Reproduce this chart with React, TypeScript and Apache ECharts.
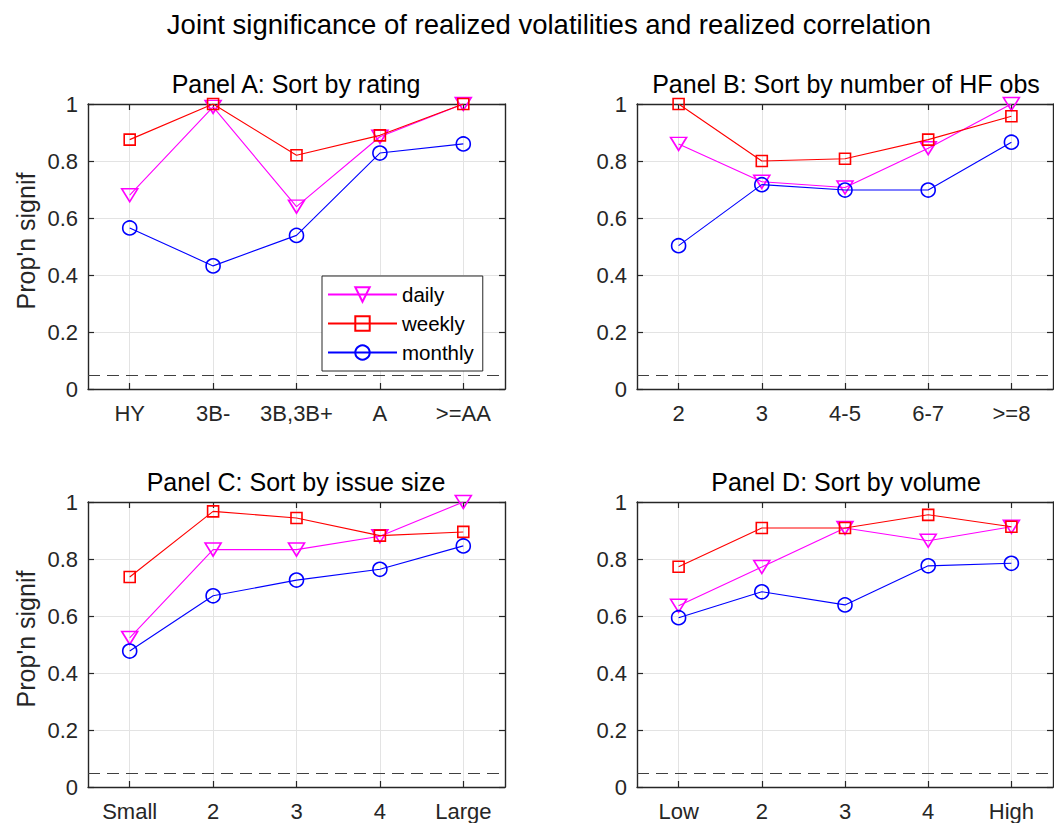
import React, { useEffect, useRef } from 'react';
import * as echarts from 'echarts';

const seriesNames = ['daily', 'weekly', 'monthly'];

const catsA = ['HY', '3B-', '3B,3B+', 'A', '>=AA'];
const dailyA = [0.68, 0.99, 0.64, 0.885, 1.0];
const weeklyA = [0.875, 1.0, 0.82, 0.89, 1.0];
const monthlyA = [0.565, 0.432, 0.539, 0.828, 0.86];

const catsB = ['2', '3', '4-5', '6-7', '>=8'];
const dailyB = [0.86, 0.727, 0.707, 0.845, 1.0];
const weeklyB = [1.0, 0.8, 0.808, 0.875, 0.957];
const monthlyB = [0.503, 0.717, 0.698, 0.698, 0.866];

const catsC = ['Small', '2', '3', '4', 'Large'];
const dailyC = [0.523, 0.833, 0.833, 0.88, 1.0];
const weeklyC = [0.737, 0.967, 0.944, 0.882, 0.895];
const monthlyC = [0.477, 0.671, 0.726, 0.764, 0.846];

const catsD = ['Low', '2', '3', '4', 'High'];
const dailyD = [0.636, 0.772, 0.909, 0.864, 0.913];
const weeklyD = [0.773, 0.909, 0.909, 0.955, 0.913];
const monthlyD = [0.594, 0.685, 0.639, 0.776, 0.785];

const sigLevel = 0.05;

const panelTitles = [
  'Panel A: Sort by rating',
  'Panel B: Sort by number of HF obs',
  'Panel C: Sort by issue size',
  'Panel D: Sort by volume',
];
const mainTitle = 'Joint significance of realized volatilities and realized correlation';
const yLabel = "Prop'n signif";

const panels = [
  { cats: catsA, vals: [dailyA, weeklyA, monthlyA] },
  { cats: catsB, vals: [dailyB, weeklyB, monthlyB] },
  { cats: catsC, vals: [dailyC, weeklyC, monthlyC] },
  { cats: catsD, vals: [dailyD, weeklyD, monthlyD] },
];

const FONT = "'Liberation Sans', Arial, Helvetica, sans-serif";
const AX = '#262626';
const GRIDC = '#e3e3e3';
const colors = ['#ff00ff', '#ff0000', '#0000ff'];
const symbols = ['triangle', 'rect', 'circle'];
const symSizes: any[] = [[16, 13], 11, 14];
const symRot = [180, 0, 0];

const gridRects = [
  { left: 88, top: 104, width: 417, height: 285 },
  { left: 637, top: 104, width: 416, height: 285 },
  { left: 88, top: 502, width: 417, height: 285 },
  { left: 637, top: 502, width: 416, height: 285 },
];
const titleCenters = [
  { x: 296, y: 84 },
  { x: 846, y: 84 },
  { x: 296, y: 482 },
  { x: 846, y: 482 },
];

function buildOption() {
  const grid: any[] = [];
  const xAxis: any[] = [];
  const yAxis: any[] = [];
  const series: any[] = [];
  const title: any[] = [
    {
      text: mainTitle,
      left: 549,
      top: 24,
      padding: 0,
      textAlign: 'center',
      textVerticalAlign: 'middle',
      textStyle: { fontSize: 27.5, fontWeight: 'normal', color: '#000', fontFamily: FONT },
    },
  ];

  panels.forEach((p, i) => {
    grid.push({ ...gridRects[i], containLabel: false });
    title.push({
      text: panelTitles[i],
      left: titleCenters[i].x,
      top: titleCenters[i].y,
      padding: 0,
      textAlign: 'center',
      textVerticalAlign: 'middle',
      textStyle: { fontSize: 25, fontWeight: 'normal', color: '#000', fontFamily: FONT },
    });
    xAxis.push({
      type: 'category',
      gridIndex: i,
      data: p.cats,
      boundaryGap: true,
      position: 'bottom',
      axisLine: { show: true, lineStyle: { color: AX, width: 1.4 } },
      axisTick: { show: true, inside: true, alignWithLabel: true, length: 6, lineStyle: { color: AX, width: 1.2 } },
      axisLabel: { show: true, margin: 13, fontSize: 22, color: AX, fontFamily: FONT, interval: 0 },
      splitLine: { show: true, alignWithLabel: true, lineStyle: { color: GRIDC, width: 1 } },
    });
    xAxis.push({
      type: 'category',
      gridIndex: i,
      data: p.cats,
      boundaryGap: true,
      position: 'top',
      axisLine: { show: true, onZero: false, lineStyle: { color: AX, width: 1.4 } },
      axisTick: { show: true, inside: true, alignWithLabel: true, length: 6, lineStyle: { color: AX, width: 1.2 } },
      axisLabel: { show: false },
      splitLine: { show: false },
    });
    yAxis.push({
      type: 'value',
      gridIndex: i,
      min: 0,
      max: 1,
      interval: 0.2,
      position: 'left',
      name: i % 2 === 0 ? yLabel : '',
      nameLocation: 'middle',
      nameRotate: 90,
      nameGap: 50,
      nameTextStyle: { fontSize: 25, color: AX, fontFamily: FONT, padding: [0, 0, 0, 11] },
      axisLine: { show: true, onZero: false, lineStyle: { color: AX, width: 1.4 } },
      axisTick: { show: true, inside: true, length: 6, lineStyle: { color: AX, width: 1.2 } },
      axisLabel: { show: true, margin: 10, fontSize: 22, color: AX, fontFamily: FONT },
      splitLine: { show: true, lineStyle: { color: GRIDC, width: 1 } },
    });
    yAxis.push({
      type: 'value',
      gridIndex: i,
      min: 0,
      max: 1,
      interval: 0.2,
      position: 'right',
      axisLine: { show: true, onZero: false, lineStyle: { color: AX, width: 1.4 } },
      axisTick: { show: true, inside: true, length: 6, lineStyle: { color: AX, width: 1.2 } },
      axisLabel: { show: false },
      splitLine: { show: false },
    });

    p.vals.forEach((vals, k) => {
      const s: any = {
        type: 'line',
        name: seriesNames[k],
        xAxisIndex: 2 * i,
        yAxisIndex: 2 * i,
        data: vals,
        symbol: symbols[k],
        symbolSize: symSizes[k],
        symbolRotate: symRot[k],
        showAllSymbol: true,
        lineStyle: { color: colors[k], width: 1.1 },
        itemStyle: { color: 'rgba(255,255,255,0)', borderColor: colors[k], borderWidth: 1.6 },
        emphasis: { disabled: true },
        z: 3 + k,
      };
      if (k === 2) {
        s.markLine = {
          silent: true,
          symbol: ['none', 'none'],
          label: { show: false },
          lineStyle: { color: '#404040', type: [12, 7], width: 1.2 },
          data: [{ yAxis: sigLevel }],
          animation: false,
        };
      }
      series.push(s);
    });
  });

  return {
    animation: false,
    backgroundColor: '#ffffff',
    textStyle: { fontFamily: FONT },
    title,
    grid,
    xAxis,
    yAxis,
    series,
    legend: {
      data: seriesNames,
      orient: 'vertical',
      left: 322,
      top: 276,
      padding: [8, 9, 8, 5],
      itemGap: 8,
      itemWidth: 69,
      itemHeight: 18,
      selectedMode: false,
      backgroundColor: '#ffffff',
      borderColor: AX,
      borderWidth: 1,
      textStyle: { fontSize: 20.5, color: '#000', fontFamily: FONT, lineHeight: 20 },
    },
  };
}

export default function App() {
  const ref = useRef<HTMLDivElement>(null);
  useEffect(() => {
    if (!ref.current) return;
    const chart = echarts.init(ref.current, undefined, { renderer: 'svg' });
    chart.setOption(buildOption() as any);
    return () => chart.dispose();
  }, []);
  return (
    <div
      ref={ref}
      style={{ position: 'fixed', left: 0, top: 0, width: 1054, height: 823, background: '#fff' }}
    />
  );
}
